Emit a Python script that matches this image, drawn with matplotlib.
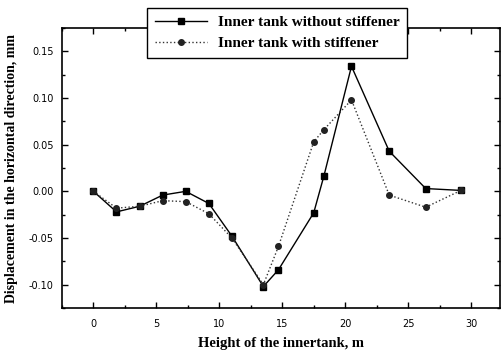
import numpy as np
import matplotlib.pyplot as plt
from matplotlib.ticker import MultipleLocator

# heights along the inner tank, m
height = [0, 1.83, 3.67, 5.5, 7.33, 9.17, 11.0, 13.5, 14.7, 17.5, 18.3, 20.5, 23.5, 26.4, 29.2]
# horizontal displacement, mm
no_stiff = [0.0, -0.022, -0.016, -0.004, 0.0, -0.013, -0.048, -0.102, -0.084, -0.023, 0.016, 0.134, 0.043, 0.003, 0.001]
with_stiff = [0.0, -0.018, -0.016, -0.010, -0.011, -0.024, -0.050, -0.100, -0.059, 0.053, 0.066, 0.098, -0.004, -0.017, 0.001]

labels = ['Inner tank without stiffener', 'Inner tank with stiffener']

fig = plt.figure(figsize=(5.02, 3.55), dpi=100)
ax = fig.add_axes([0.1235, 0.1324, 0.8725, 0.7886])

ax.plot(height, no_stiff, '-', color='black', lw=1.0, marker='s', ms=5,
        mfc='black', mec='black', label=labels[0])
ax.plot(height, with_stiff, ':', color='#333333', lw=1.0, marker='o', ms=4,
        mfc='#222222', mec='#222222', label=labels[1])

ax.set_xlim(-2.5, 32.3)
ax.set_ylim(-0.125, 0.175)
ax.xaxis.set_major_locator(MultipleLocator(5))
ax.xaxis.set_minor_locator(MultipleLocator(2.5))
ax.yaxis.set_major_locator(MultipleLocator(0.05))
ax.yaxis.set_minor_locator(MultipleLocator(0.025))
ax.yaxis.set_major_formatter(plt.FuncFormatter(lambda v, p: '%.2f' % v))
ax.tick_params(which='both', direction='in', top=True, right=True, labelsize=7, width=1)
ax.tick_params(which='major', length=4)
ax.tick_params(which='minor', length=2.5)
ax.tick_params(axis='x', pad=8)
ax.tick_params(axis='y', pad=6)
for s in ax.spines.values():
    s.set_linewidth(1.2)

serif = ['Liberation Serif', 'DejaVu Serif']
ax.set_xlabel('Height of the innertank, m', family=serif, fontweight='bold', fontsize=10.5, labelpad=6)
ax.set_ylabel('Displacement in the horizontal direction, mm', family=serif, fontweight='bold',
              fontsize=10, labelpad=8)

leg = ax.legend(loc='upper center', bbox_to_anchor=(0.552, 1.0), bbox_transform=fig.transFigure,
                prop={'family': serif, 'weight': 'bold', 'size': 11}, frameon=True, fancybox=False,
                edgecolor='black', framealpha=1, borderpad=0.5, handlelength=3.4,
                labelspacing=0.5, borderaxespad=0.5, handletextpad=0.7)
leg.get_frame().set_linewidth(1.0)

fig.savefig('out.png', dpi=100)
